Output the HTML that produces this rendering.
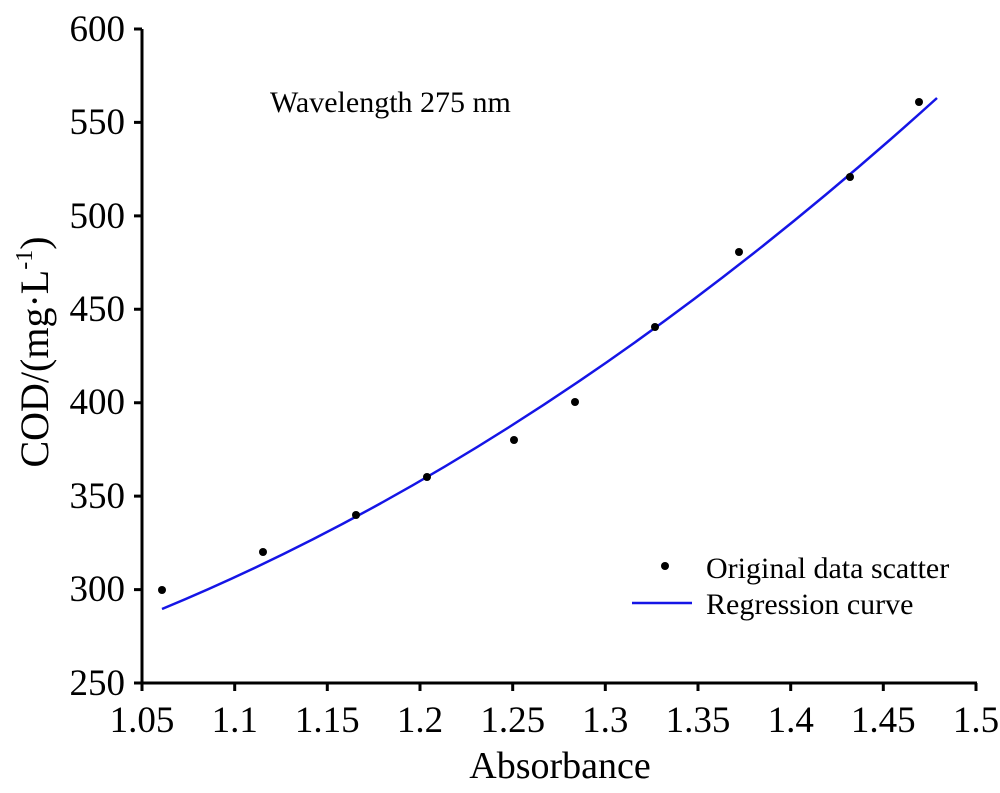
<!DOCTYPE html>
<html><head><style>body{margin:0;background:#fff}</style></head><body>
<svg width="1000" height="788" xmlns="http://www.w3.org/2000/svg" font-family="Liberation Serif, serif">
<g stroke="#000" stroke-width="3" fill="none">
<line x1="142" y1="29" x2="142" y2="684"/>
<line x1="141" y1="683" x2="977" y2="683"/>
<path d="M134,29H142M134,122.4H142M134,215.9H142M134,309.3H142M134,402.7H142M134,496.1H142M134,589.6H142M134,683H142"/>
<path d="M142,683V691M234.7,683V691M327.3,683V691M420,683V691M512.7,683V691M605.3,683V691M698,683V691M790.7,683V691M883.3,683V691M976,683V691"/>
</g>
<g font-size="37" text-anchor="end">
<text x="125" y="41">600</text><text x="125" y="134">550</text><text x="125" y="228">500</text><text x="125" y="321">450</text><text x="125" y="414">400</text><text x="125" y="508">350</text><text x="125" y="601">300</text><text x="125" y="695">250</text>
</g>
<g font-size="37" text-anchor="middle">
<text x="142" y="732">1.05</text><text x="234.7" y="732">1.1</text><text x="327.3" y="732">1.15</text><text x="420" y="732">1.2</text><text x="512.7" y="732">1.25</text><text x="605.3" y="732">1.3</text><text x="698" y="732">1.35</text><text x="790.7" y="732">1.4</text><text x="883.3" y="732">1.45</text><text x="976" y="732">1.5</text>
<text x="560" y="778" font-size="38">Absorbance</text>
</g>
<text transform="translate(48,352) rotate(-90)" font-size="40" text-anchor="middle">COD/(mg·L<tspan font-size="24" dy="-16">-1</tspan><tspan dy="16">)</tspan></text>
<text x="270" y="112" font-size="30">Wavelength 275 nm</text>
<path d="M162,609 Q549.5,448.5 937,98" stroke="#1515e6" stroke-width="2.5" fill="none"/>
<g fill="#000">
<circle cx="162" cy="590" r="4"/><circle cx="263" cy="552" r="4"/><circle cx="356" cy="515" r="4"/><circle cx="427" cy="477" r="4"/><circle cx="514" cy="440" r="4"/><circle cx="575" cy="402" r="4"/><circle cx="655" cy="327" r="4"/><circle cx="739" cy="252" r="4"/><circle cx="850" cy="177" r="4"/><circle cx="919" cy="102" r="4"/>
<circle cx="665" cy="566" r="4"/>
</g>
<line x1="632" y1="603" x2="692" y2="603" stroke="#1515e6" stroke-width="2.5"/>
<g font-size="30"><text x="706" y="578">Original data scatter</text><text x="706" y="614">Regression curve</text></g>
</svg>
</body></html>
